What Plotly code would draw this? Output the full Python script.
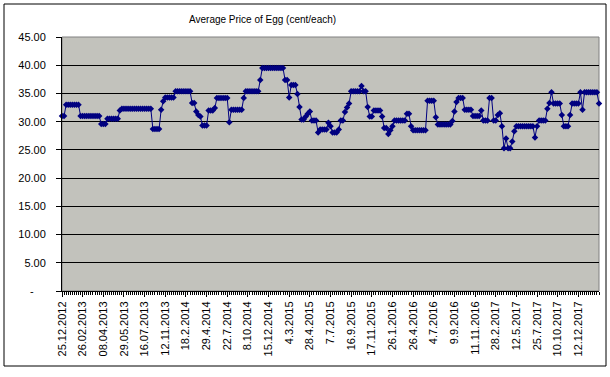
import plotly.graph_objects as go

# ---- data ----
tick_labels = ["25.12.2012", "26.02.2013", "08.04.2013", "29.05.2013", "16.07.2013",
               "12.11.2013", "18.2.2014", "29.4.2014", "22.7.2014", "8.10.2014",
               "15.12.2014", "4.3.2015", "28.4.2015", "7.7.2015", "16.9.2015",
               "17.11.2015", "26.1.2016", "26.4.2016", "4.7.2016", "9.9.2016",
               "11.11.2016", "28.2.2017", "12.5.2017", "25.7.2017", "10.10.2017",
               "12.12.2017"]
points_per_label = 10

price = [
    31.0, 31.0,
    33.0, 33.0, 33.0, 33.0, 33.0, 33.0, 33.0,
    31.0, 31.0, 31.0, 31.0, 31.0, 31.0, 31.0, 31.0, 31.0, 31.0,
    29.6, 29.6, 29.6,
    30.5, 30.5, 30.5, 30.5, 30.5, 30.5,
    32.0,
    32.3, 32.3, 32.3, 32.3, 32.3, 32.3, 32.3, 32.3, 32.3, 32.3, 32.3, 32.3, 32.3, 32.3, 32.3,
    28.7, 28.7, 28.7, 28.7,
    32.1, 33.6,
    34.3, 34.3, 34.3, 34.3, 34.3,
    35.4, 35.4, 35.4, 35.4, 35.4, 35.4, 35.4, 35.4,
    33.3, 33.3, 31.8, 31.2, 30.9,
    29.3, 29.3, 29.3,
    32.0, 32.0, 32.0, 32.4,
    34.2, 34.2, 34.2, 34.2, 34.2, 34.2,
    29.9,
    32.1, 32.1, 32.1, 32.1, 32.1, 32.1,
    34.2,
    35.4, 35.4, 35.4, 35.4, 35.4, 35.4, 35.4,
    37.4,
    39.5, 39.5, 39.5, 39.5, 39.5, 39.5, 39.5, 39.5, 39.5, 39.5, 39.5,
    37.4, 37.4, 34.3,
    36.5, 36.5, 36.5,
    34.9, 32.6, 30.4, 30.4, 30.9, 31.4, 31.8,
    30.2, 30.2, 30.2,
    28.1, 28.6, 28.6, 28.6, 28.6, 29.8, 29.2,
    28.1, 28.1, 28.1, 28.6,
    30.2, 30.2, 31.7, 32.5, 33.2,
    35.4, 35.4, 35.4, 35.4, 35.4, 36.3, 35.4, 35.4,
    32.6, 30.9, 30.9,
    32.0, 32.0, 32.0, 32.0,
    30.9, 28.9, 28.9, 27.8, 28.5, 29.2,
    30.2, 30.2, 30.2, 30.2, 30.2, 30.2,
    31.4, 31.4, 29.2,
    28.5, 28.5, 28.5, 28.5, 28.5, 28.5, 28.5,
    33.7, 33.7, 33.7, 33.7,
    30.8,
    29.5, 29.5, 29.5, 29.5, 29.5, 29.5, 29.5,
    30.1, 31.8, 33.5,
    34.2, 34.2, 34.2,
    32.1, 32.1, 32.1, 32.1,
    31.0, 31.0, 31.0, 31.0, 32.0,
    30.2, 30.2, 30.2,
    34.2, 34.2,
    30.2, 30.2, 31.2, 31.5, 29.2,
    25.3, 27.0, 25.3, 25.3, 26.5, 28.3,
    29.2, 29.2, 29.2, 29.2, 29.2, 29.2, 29.2, 29.2, 29.2,
    27.2, 29.2,
    30.2, 30.2, 30.2, 30.2,
    32.3, 33.3, 35.2,
    33.2, 33.2, 33.2, 33.2,
    31.2, 29.2, 29.2, 29.2, 31.2,
    33.2, 33.2, 33.2, 33.2,
    35.2, 32.1,
    35.2, 35.2, 35.2, 35.2, 35.2, 35.2, 35.2,
    33.2,
]
y_ticks = [0, 5, 10, 15, 20, 25, 30, 35, 40, 45]
y_tick_text = ["-\u00a0\u00a0\u00a0\u00a0", "5.00", "10.00", "15.00", "20.00", "25.00",
               "30.00", "35.00", "40.00", "45.00"]

x = list(range(len(price)))
tick_pos = [k * points_per_label for k in range(len(tick_labels))]

FONT = "Liberation Sans, Arial, sans-serif"
W, H = 610, 377
ML, MR, MT, MB = 62, 11, 37, 86
pw, ph = W - ML - MR, H - MT - MB


def px2paper(px, py):
    return (px - ML) / pw, (H - MB - py) / ph


fig = go.Figure()
fig.add_trace(go.Scatter(
    x=x, y=price, mode="lines+markers",
    line=dict(color="#000080", width=1),
    marker=dict(symbol="diamond", size=5, color="#000080"),
    cliponaxis=False, hoverinfo="skip",
))

x0, y0 = px2paper(4, 4)
x1, y1 = px2paper(606, 366)
fig.add_shape(type="rect", xref="paper", yref="paper", x0=x0, y0=y1, x1=x1, y1=y0,
              line=dict(color="black", width=1), layer="below")
fig.add_shape(type="rect", xref="paper", yref="paper", x0=0, y0=0, x1=1, y1=1,
              line=dict(color="#808080", width=1), layer="below")

tx, ty = px2paper(262, 20)
fig.add_annotation(text="Average Price of Egg (cent/each)", xref="paper", yref="paper",
                   x=tx, y=ty, showarrow=False, xanchor="center", yanchor="middle",
                   font=dict(family=FONT, size=10, color="black"))

fig.update_layout(
    width=W, height=H, margin=dict(l=ML, r=MR, t=MT, b=MB),
    paper_bgcolor="white", plot_bgcolor="#C2C2BC",
    showlegend=False,
    font=dict(family=FONT, size=11, color="black"),
    xaxis=dict(
        range=[0, len(price) - 1], tickmode="array", tickvals=tick_pos, ticktext=tick_labels,
        tickangle=-90, ticks="outside", ticklen=5, tickcolor="black", tickwidth=1,
        showgrid=False, zeroline=False, showline=True, linecolor="black", linewidth=1,
        tickfont=dict(family=FONT, size=11, color="black"), automargin=False,
        minor=dict(tickmode="linear", tick0=0, dtick=1, ticks="outside", ticklen=3,
                   tickcolor="black", tickwidth=1, showgrid=False),
    ),
    yaxis=dict(
        range=[0, 45], tickmode="array", tickvals=y_ticks, ticktext=y_tick_text,
        ticks="outside", ticklen=5, tickcolor="black",
        showgrid=True, gridcolor="black", gridwidth=1, zeroline=False,
        showline=True, linecolor="black", linewidth=1, automargin=False,
        ticklabelstandoff=8,
        tickfont=dict(family=FONT, size=11, color="black"),
    ),
)

fig.write_html("out.html", config={"displayModeBar": False},
               post_script="document.body.style.margin='0px';document.body.style.padding='0px';")
